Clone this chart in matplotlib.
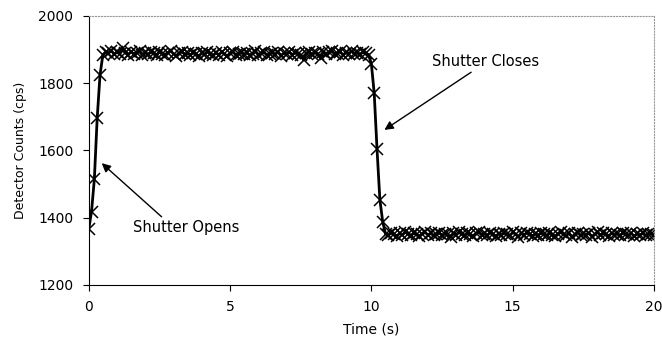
import numpy as np
import matplotlib
matplotlib.use("Agg")
import matplotlib.pyplot as plt

plt.rcParams['font.family'] = ['DejaVu Sans']

# detector counts sampled every 0.1 s
rise = [1366, 1418, 1515, 1696, 1824, 1884]
plateau_open = [
    1893, 1889, 1897, 1886, 1892, 1888, 1904, 1890, 1885, 1893,
    1887, 1891, 1895, 1884, 1890, 1886, 1892, 1889, 1883, 1894,
    1888, 1885, 1891, 1896, 1887, 1882, 1890, 1893, 1886, 1889,
    1884, 1891, 1887, 1880, 1890, 1886, 1893, 1888, 1883, 1889,
    1885, 1892, 1887, 1881, 1889, 1894, 1884, 1888, 1891, 1886,
    1890, 1883, 1888, 1895, 1885, 1889, 1892, 1884, 1887, 1891,
    1886, 1893, 1882, 1889, 1887, 1892, 1885, 1890, 1888, 1884,
    1869, 1889, 1893, 1886, 1891, 1888, 1875, 1894, 1887, 1892,
    1896, 1886, 1890, 1893, 1884, 1891, 1888, 1895, 1887, 1890,
    1886, 1892, 1889, 1885]
fall = [1857, 1770, 1603, 1454, 1388]
plateau_closed = [
    1352, 1348, 1355, 1350, 1346, 1353, 1349, 1357, 1351, 1347,
    1354, 1350, 1345, 1352, 1356, 1349, 1353, 1347, 1351, 1355,
    1348, 1352, 1350, 1344, 1353, 1349, 1356, 1351, 1347, 1354,
    1350, 1346, 1353, 1357, 1349, 1352, 1348, 1355, 1351, 1345,
    1352, 1349, 1354, 1350, 1347, 1356, 1351, 1343, 1353, 1349,
    1355, 1350, 1346, 1352, 1348, 1354, 1351, 1347, 1353, 1349,
    1345, 1352, 1356, 1350, 1348, 1353, 1343, 1351, 1355, 1347,
    1352, 1349, 1354, 1344, 1351, 1356, 1348, 1353, 1350, 1346,
    1354, 1349, 1352, 1347, 1355, 1350, 1348, 1353, 1345, 1351,
    1349, 1353, 1347, 1350, 1352, 1348]

counts = np.array(rise + plateau_open + fall + plateau_closed)
time = np.arange(len(counts)) * 0.1

fig = plt.figure(figsize=(6.62, 3.38), dpi=100)
ax = fig.add_axes([0.134, 0.157, 0.854, 0.796])

ax.plot(time, counts, color="k", lw=2, marker="x", ms=8, mew=1.1)

# annotations
ax.annotate("Shutter Opens", xy=(0.46, 1562), xytext=(1.56, 1372),
            fontsize=10.5, va="center", ha="left",
            arrowprops=dict(arrowstyle="-|>", color="k", lw=1, mutation_scale=13,
                            shrinkA=0, shrinkB=0, relpos=(0.3, 1.0)))
ax.annotate("Shutter Closes", xy=(10.46, 1661), xytext=(12.16, 1863),
            fontsize=10.5, va="center", ha="left",
            arrowprops=dict(arrowstyle="-|>", color="k", lw=1, mutation_scale=13,
                            shrinkA=0, shrinkB=0, relpos=(0.4, 0.0)))

ax.set_xlim(0, 20)
ax.set_ylim(1200, 2000)
ax.set_xticks([0, 5, 10, 15, 20])
ax.set_yticks([1200, 1400, 1600, 1800, 2000])
ax.tick_params(direction="out", length=4, width=0.8, labelsize=10, pad=7)
ax.set_xlabel("Time (s)", fontsize=10, labelpad=6)
ax.set_ylabel("Detector Counts (cps)", fontsize=9, labelpad=8)

for s in ["top", "right"]:
    ax.spines[s].set_color("#999999")
    ax.spines[s].set_linestyle(":")
    ax.spines[s].set_linewidth(0.8)
for s in ["left", "bottom"]:
    ax.spines[s].set_linewidth(0.8)

fig.savefig("out.png", dpi=100)
